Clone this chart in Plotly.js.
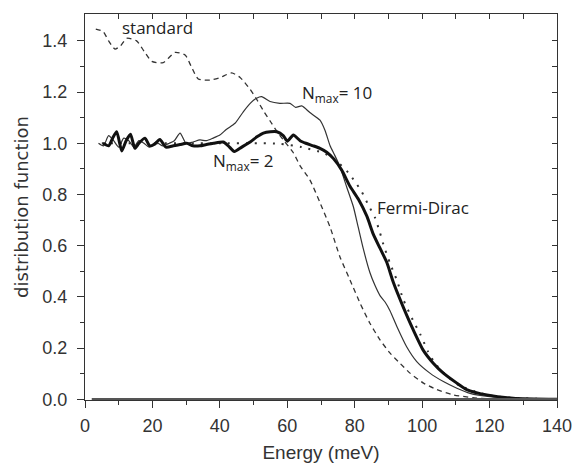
<!DOCTYPE html>
<html>
<head>
<meta charset="utf-8">
<script src="https://cdn.plot.ly/plotly-3.0.1.min.js"></script>
<style>html,body{margin:0;padding:0;background:#fff;}#chart{width:573px;height:463px;}</style>
</head>
<body>
<div id="chart"></div>
<script>
// ---- data ----
var standardE = [3.2, 5.4, 7.0, 8.9, 10.5, 12.4, 15.3, 17.5, 19.8, 23.2, 26.7, 29.7, 31.5, 33.6, 37.1, 40.0, 43.5, 46.0, 49.0, 51.0, 53.0, 55.0, 57.0, 59.0, 61.8, 63.8, 66.7, 69.7, 72.7, 75.6, 78.6, 81.6, 84.5, 87.5, 90.5, 93.4, 96.4, 100.4, 104.3, 109.3, 115.0, 120.0, 130.0, 140.0];
var standardF = [1.446, 1.436, 1.40, 1.368, 1.38, 1.41, 1.40, 1.36, 1.32, 1.315, 1.355, 1.345, 1.30, 1.251, 1.247, 1.256, 1.275, 1.257, 1.21, 1.17, 1.125, 1.085, 1.045, 1.01, 0.963, 0.912, 0.857, 0.768, 0.672, 0.557, 0.466, 0.375, 0.297, 0.232, 0.18, 0.141, 0.102, 0.063, 0.038, 0.017, 0.006, 0.002, 0.0, 0.0];

var nmax2E = [5.4, 7.0, 8.2, 9.4, 10.9, 12.2, 13.5, 14.8, 16.0, 17.8, 19.2, 20.5, 22.2, 24.0, 26.2, 28.2, 30.2, 32.0, 34.1, 36.0, 38.1, 41.0, 42.5, 44.3, 46.5, 49.0, 51.0, 52.9, 55.0, 56.9, 58.8, 60.0, 61.8, 63.8, 65.5, 67.7, 69.7, 71.7, 73.7, 76.1, 78.6, 81.1, 83.6, 85.5, 87.5, 89.5, 91.5, 94.4, 97.4, 100.4, 103.3, 106.3, 110.3, 113.2, 119.2, 127.0, 140.0];
var nmax2F = [1.0, 0.99, 1.02, 1.045, 0.97, 1.01, 1.035, 0.98, 1.0, 1.02, 0.99, 0.995, 1.015, 0.985, 0.99, 0.995, 1.0, 0.99, 0.99, 0.995, 1.0, 1.005, 0.99, 0.968, 0.985, 1.005, 1.025, 1.04, 1.045, 1.045, 1.03, 1.008, 1.032, 1.01, 1.0, 0.99, 0.98, 0.965, 0.94, 0.896, 0.832, 0.781, 0.715, 0.645, 0.59, 0.535, 0.455, 0.36, 0.27, 0.19, 0.141, 0.102, 0.063, 0.038, 0.017, 0.004, 0.0];

var nmax10E = [4.0, 5.5, 7.0, 8.5, 10.0, 11.5, 13.0, 14.5, 16.0, 17.5, 19.0, 21.0, 23.0, 25.0, 26.5, 28.2, 30.0, 32.0, 34.1, 36.0, 38.0, 40.0, 42.0, 44.5, 47.0, 49.0, 50.9, 52.4, 54.9, 57.8, 60.8, 62.5, 64.3, 66.7, 69.7, 71.2, 72.7, 74.0, 75.6, 77.6, 79.6, 81.0, 82.5, 84.5, 86.0, 87.5, 89.0, 90.5, 92.5, 95.4, 98.4, 102.3, 106.3, 110.3, 114.2, 120.1, 130.0, 140.0];
var nmax10F = [1.0, 0.99, 1.03, 1.01, 0.985, 1.02, 1.01, 0.985, 1.01, 1.0, 0.985, 1.005, 0.99, 1.0, 1.01, 1.04, 1.0, 1.005, 1.013, 1.01, 1.02, 1.032, 1.055, 1.078, 1.124, 1.156, 1.176, 1.182, 1.163, 1.156, 1.156, 1.14, 1.146, 1.12, 1.09, 1.05, 0.99, 0.955, 0.909, 0.83, 0.752, 0.674, 0.59, 0.495, 0.445, 0.405, 0.38, 0.345, 0.284, 0.205, 0.147, 0.102, 0.069, 0.043, 0.023, 0.01, 0.002, 0.0];

var fermiE = [5.0, 10.0, 20.0, 30.0, 40.0, 50.0, 57.8, 64.3, 70.7, 74.0, 78.1, 80.1, 82.1, 84.0, 86.0, 87.5, 88.5, 90.5, 92.5, 94.4, 97.4, 99.4, 101.8, 103.8, 106.8, 110.7, 115.7, 120.0, 125.0, 130.0, 140.0];
var fermiF = [1.0, 1.0, 1.0, 1.0, 1.0, 1.0, 0.998, 0.985, 0.962, 0.938, 0.885, 0.85, 0.81, 0.76, 0.71, 0.65, 0.605, 0.53, 0.465, 0.39, 0.305, 0.255, 0.185, 0.141, 0.097, 0.056, 0.03, 0.015, 0.007, 0.003, 0.0];

var baselineE = [2.0, 140.0];
var baselineF = [0.0, 0.0];

var xTickVals = [0, 20, 40, 60, 80, 100, 120, 140];
var xMinorVals = [10, 30, 50, 70, 90, 110, 130];
var yTickVals = [0.0, 0.2, 0.4, 0.6, 0.8, 1.0, 1.2, 1.4];
var yTickText = ["0.0", "0.2", "0.4", "0.6", "0.8", "1.0", "1.2", "1.4"];
var yMinorVals = [0.1, 0.3, 0.5, 0.7, 0.9, 1.1, 1.3];
var topTickVals = [10, 20, 30, 40, 50, 60, 70, 80, 90, 100, 110, 120, 130];
var rightTickVals = [0.1, 0.2, 0.3, 0.4, 0.5, 0.6, 0.7, 0.8, 0.9, 1.0, 1.1, 1.2, 1.3, 1.4];

var XR = [0, 140];
var YR = [-0.003, 1.505];

var traces = [
  {x: baselineE, y: baselineF, mode: 'lines', line: {color: '#555', width: 2.5}, xaxis: 'x2', yaxis: 'y2', hoverinfo: 'skip'},
  {x: standardE, y: standardF, mode: 'lines', line: {color: '#333', width: 1.3, dash: '5px,4px', shape: 'spline', smoothing: 0.6}},
  {x: fermiE, y: fermiF, mode: 'lines', line: {color: '#333', width: 2, dash: '2px,7px', shape: 'spline', smoothing: 0.6}},
  {x: nmax10E, y: nmax10F, mode: 'lines', line: {color: '#333', width: 1.2, shape: 'spline', smoothing: 0.6}},
  {x: nmax2E, y: nmax2F, mode: 'lines', line: {color: '#111', width: 3, shape: 'spline', smoothing: 0.6}}
];

var tickFont = {family: 'Liberation Sans, Arial, sans-serif', size: 18, color: '#333'};
var annFont = {family: 'Open Sans, sans-serif', size: 17, color: '#222'};

var layout = {
  width: 573, height: 463,
  margin: {l: 85, r: 16, t: 14, b: 63},
  paper_bgcolor: '#fff', plot_bgcolor: '#fff',
  showlegend: false,
  xaxis: {
    range: XR, tickvals: xTickVals, ticks: 'outside', ticklen: 7, tickwidth: 1, tickcolor: '#333',
    minor: {tickvals: xMinorVals, ticks: 'outside', ticklen: 4, tickwidth: 1, tickcolor: '#333'},
    showline: true, linecolor: '#333', linewidth: 1, showgrid: false, zeroline: false,
    tickfont: tickFont, ticklabelstandoff: 2,
    title: {text: 'Energy (meV)', font: {family: 'Liberation Sans, Arial, sans-serif', size: 19, color: '#333'}, standoff: 12}
  },
  yaxis: {
    range: YR, tickvals: yTickVals, ticktext: yTickText, ticks: 'outside', ticklen: 7, tickwidth: 1, tickcolor: '#333',
    minor: {tickvals: yMinorVals, ticks: 'outside', ticklen: 4, tickwidth: 1, tickcolor: '#333'},
    showline: true, linecolor: '#333', linewidth: 1, showgrid: false, zeroline: false,
    tickfont: tickFont, ticklabelstandoff: 6,
    title: {text: 'distribution function', font: {family: 'DejaVu Sans, sans-serif', size: 18, color: '#333'}, standoff: 9}
  },
  xaxis2: {
    range: XR, overlaying: 'x', side: 'top', anchor: 'y2', tickvals: topTickVals, ticks: 'inside', ticklen: 5, tickwidth: 1, tickcolor: '#333',
    showticklabels: false, showline: true, linecolor: '#333', linewidth: 1, showgrid: false, zeroline: false
  },
  yaxis2: {
    range: YR, overlaying: 'y', side: 'right', anchor: 'x2', tickvals: rightTickVals, ticks: 'inside', ticklen: 5, tickwidth: 1, tickcolor: '#333',
    showticklabels: false, showline: true, linecolor: '#333', linewidth: 1, showgrid: false, zeroline: false
  },
  annotations: [
    {x: 10.4, y: 1.452, xref: 'x', yref: 'y', text: 'standard', showarrow: false, xanchor: 'left', yanchor: 'middle', font: annFont},
    {x: 63.8, y: 1.195, xref: 'x', yref: 'y', text: 'N<sub>max</sub>= 10', showarrow: false, xanchor: 'left', yanchor: 'middle', font: annFont},
    {x: 37.4, y: 0.93, xref: 'x', yref: 'y', text: 'N<sub>max</sub>= 2', showarrow: false, xanchor: 'left', yanchor: 'middle', font: annFont},
    {x: 86.0, y: 0.748, xref: 'x', yref: 'y', text: 'Fermi-Dirac', showarrow: false, xanchor: 'left', yanchor: 'middle', font: annFont}
  ]
};

Plotly.newPlot('chart', traces, layout, {displayModeBar: false, staticPlot: true});
</script>
</body>
</html>
